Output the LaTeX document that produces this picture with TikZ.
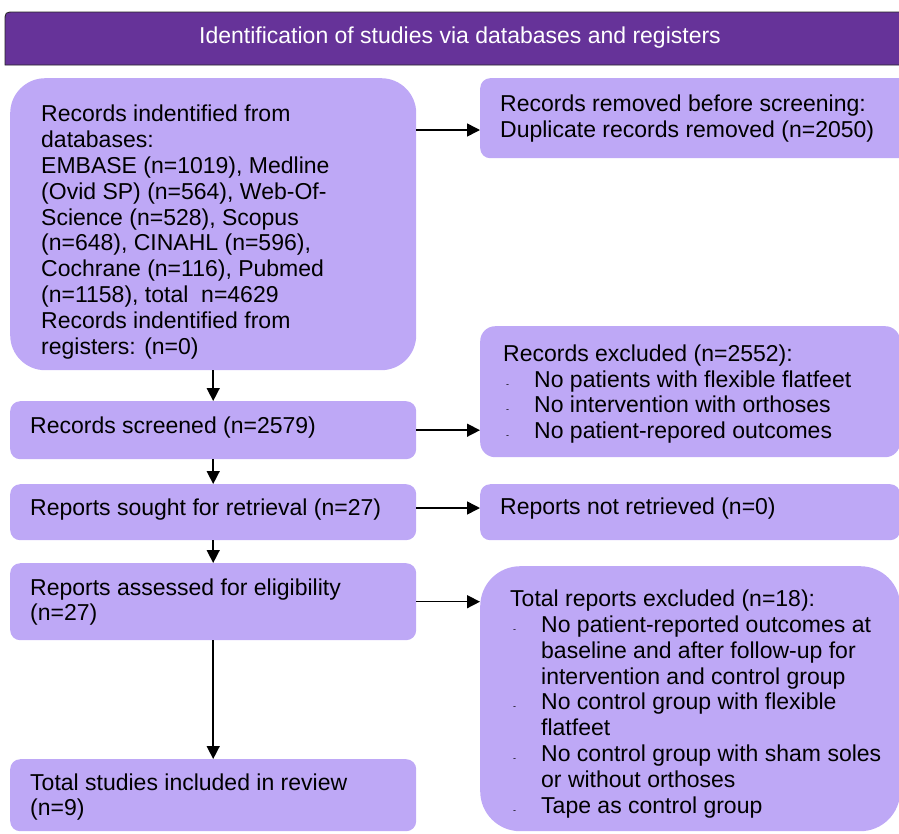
\documentclass[tikz,border=0pt]{standalone}
\usepackage{fontspec}
\setmainfont{Liberation Sans}
\usetikzlibrary{arrows.meta,calc}
\definecolor{hdrcol}{RGB}{102,51,153}
\definecolor{lav}{RGB}{190,168,246}
\newcommand{\bul}{\makebox[31pt][l]{\hspace{3pt}{\fontsize{9}{9}\selectfont -}}}
\newcommand{\indt}{\hspace*{31pt}}
\begin{document}
\begin{tikzpicture}[x=1pt,y=-1pt,
  box/.style={fill=lav, draw=none, anchor=north west, inner sep=0pt},
  txt/.style={anchor=west, align=left, inner sep=0pt, font=\fontsize{23}{25.8}\selectfont},
  arr/.style={line width=1.5pt, -{Triangle[length=13pt,width=13pt]}}]
\useasboundingbox (0,0) rectangle (899,833);
\clip (0,0) rectangle (899,833);
% header
\filldraw[fill=hdrcol, draw=black!85, line width=0.8pt] (930,65) -- (5,65) -- (5,22) .. controls (5,12) .. (15,12) -- (930,12) -- cycle;
\node[font=\fontsize{23}{25.8}\selectfont, text=white, inner sep=0pt] (title) at (460,38) {Identification of studies via databases and registers};
% boxes
\node[box, minimum width=406pt, minimum height=292pt, rounded corners=35pt] (b1) at (10,78) {};
\node[box, minimum width=440pt, minimum height=80pt, rounded corners=10pt] (b2) at (480,78) {};
\node[box, minimum width=406pt, minimum height=58pt, rounded corners=10pt] (b3) at (10,401) {};
\node[box, minimum width=420pt, minimum height=131pt, rounded corners=15pt] (b4) at (480,326) {};
\node[box, minimum width=406pt, minimum height=56pt, rounded corners=10pt] (b5) at (10,484) {};
\node[box, minimum width=420pt, minimum height=56pt, rounded corners=10pt] (b6) at (480,484) {};
\node[box, minimum width=406pt, minimum height=77pt, rounded corners=10pt] (b7) at (10,563) {};
\node[box, minimum width=420pt, minimum height=265pt, rounded corners=40pt] (b8) at (480,566) {};
\node[box, minimum width=406pt, minimum height=72pt, rounded corners=10pt] (b9) at (10,759) {};
% texts
\node[txt] (t1) at (41,232) {Records indentified from\\databases:\\EMBASE (n=1019), Medline\\(Ovid SP) (n=564), Web-Of-\\Science (n=528), Scopus\\(n=648), CINAHL (n=596),\\Cochrane (n=116), Pubmed\\(n=1158), total~ n=4629\\Records indentified from\\registers: (n=0)};
\node[txt] (t2) at (500,118.5) {Records removed before screening:\\Duplicate records removed (n=2050)};
\node[txt] (t3) at (30,428) {Records screened (n=2579)};
\node[txt] (t4) at (503,394) {Records excluded (n=2552):\\\bul No patients with flexible flatfeet\\\bul No intervention with orthoses\\\bul No patient-repored outcomes};
\node[txt] (t5) at (30,510) {Reports sought for retrieval (n=27)};
\node[txt] (t6) at (500,509) {Reports not retrieved (n=0)};
\node[txt] (t7) at (30,602) {Reports assessed for eligibility\\(n=27)};
\node[txt] (t8) at (510,704) {Total reports excluded (n=18):\\\bul No patient-reported outcomes at\\\indt baseline and after follow-up for\\\indt intervention and control group\\\bul No control group with flexible\\\indt flatfeet\\\bul No control group with sham soles\\\indt or without orthoses\\\bul Tape as control group};
\node[txt] (t9) at (30,797) {Total studies included in review\\(n=9)};
% connectors
\coordinate (ya) at (0,130);
\coordinate (yb) at (0,508);
\draw[arr] (b1.east |- ya) -- (b2.west |- ya);
\draw[arr] (b1.south) -- (b3.north);
\draw[arr] (b3.east) -- (b4.west |- b3.east);
\draw[arr] (b3.south) -- (b5.north);
\draw[arr] (b5.east |- yb) -- (b6.west |- yb);
\draw[arr] (b5.south) -- (b7.north);
\draw[arr] (b7.east) -- (b8.west |- b7.east);
\draw[arr] (b7.south) -- (b9.north);
\end{tikzpicture}
\end{document}
